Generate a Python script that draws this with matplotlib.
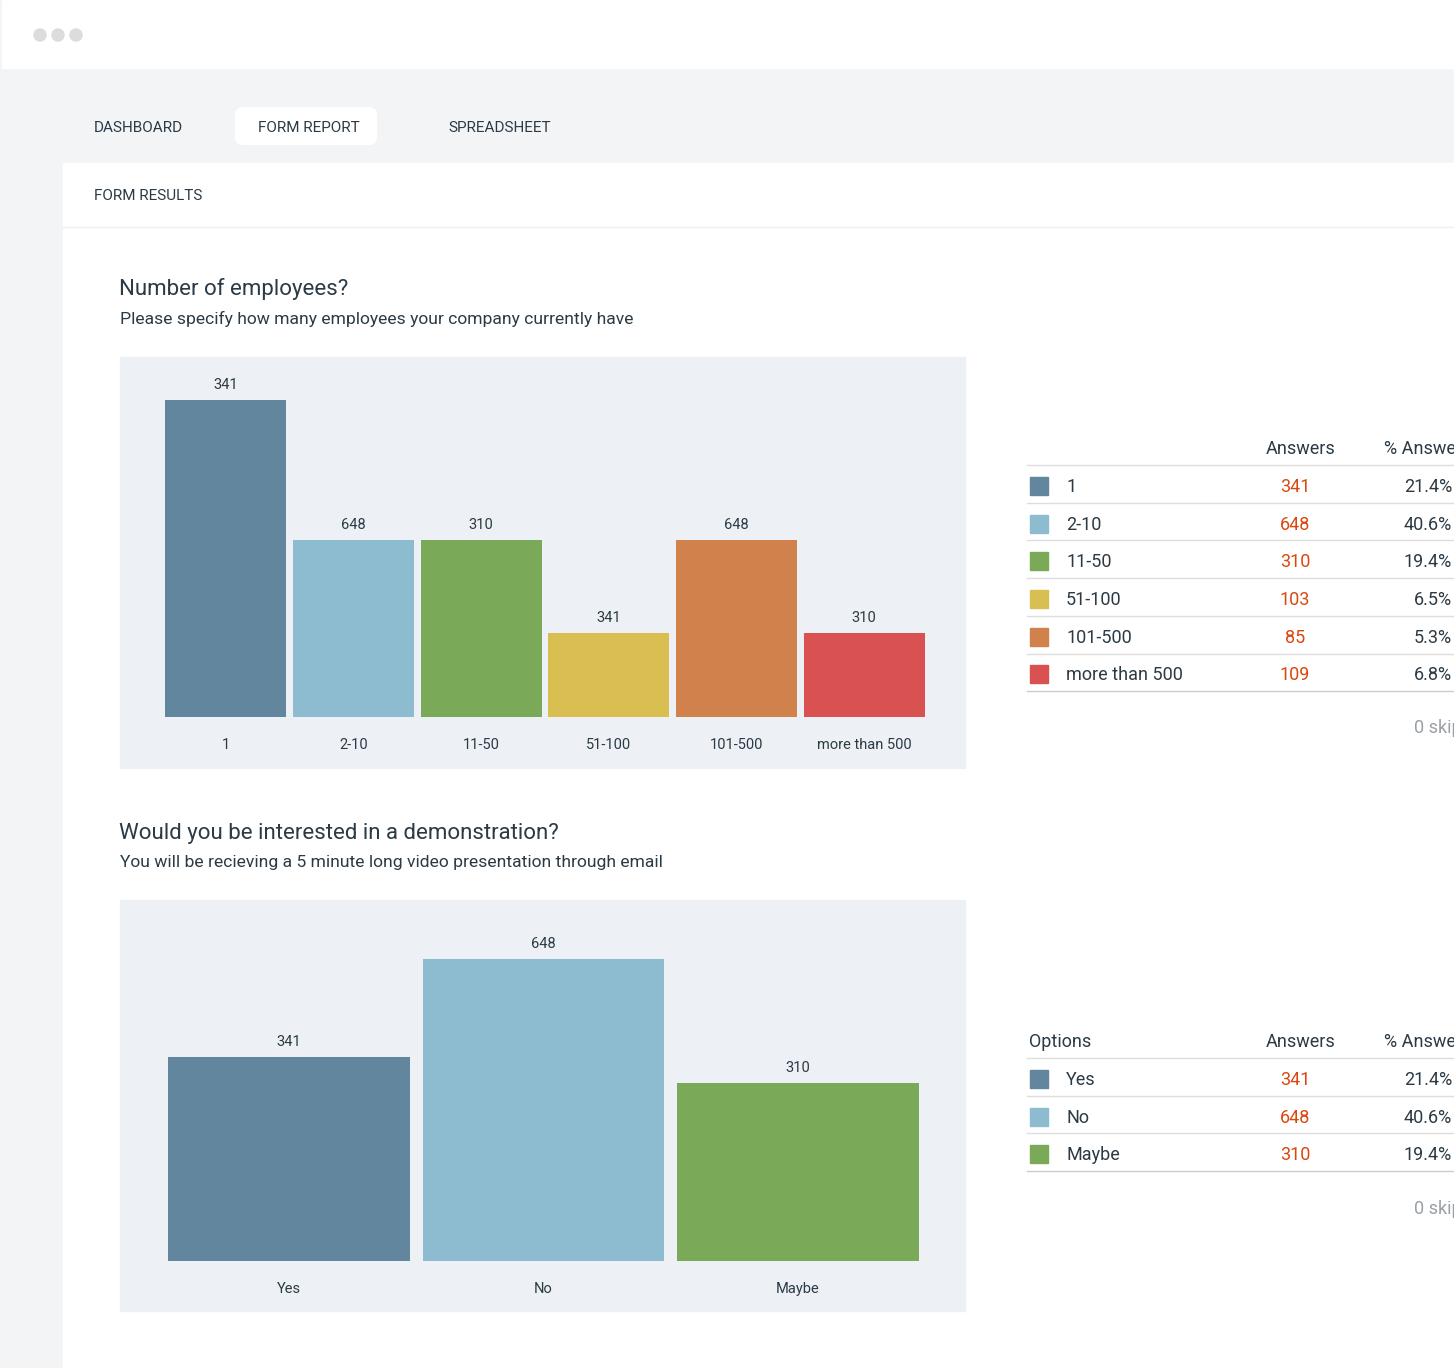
import matplotlib
matplotlib.use("Agg")
import matplotlib.pyplot as plt
from matplotlib.patches import Rectangle, FancyBboxPatch, Circle

plt.rcParams['font.family'] = ['Roboto', 'DejaVu Sans']

W, H = 1454, 1368
# ---- data ----
q1_categories = ["1", "2-10", "11-50", "51-100", "101-500", "more than 500"]
q1_bar_heights = [317, 177, 177, 84, 177, 84]
q1_bar_labels = ["341", "648", "310", "341", "648", "310"]
q1_answers = ["341", "648", "310", "103", "85", "109"]
q1_percent = ["21.4%", "40.6%", "19.4%", "6.5%", "5.3%", "6.8%"]

q2_categories = ["Yes", "No", "Maybe"]
q2_bar_heights = [204, 302, 178]
q2_bar_labels = ["341", "648", "310"]
q2_answers = ["341", "648", "310"]
q2_percent = ["21.4%", "40.6%", "19.4%"]

colors = ["#62869e", "#8dbbd0", "#7aaa57", "#d9bf52", "#d0814c", "#d95150"]
TXT = "#2b3a45"
ORANGE = "#d9480f"

fig = plt.figure(figsize=(W / 100, H / 100), dpi=100)
bg = fig.add_axes([0, 0, 1, 1])
bg.set_xlim(0, W); bg.set_ylim(H, 0); bg.axis("off")
bg.add_patch(Rectangle((0, 0), W, H, color="#f3f4f6"))
bg.add_patch(Rectangle((2, 0), W, 68, color="white"))
for x in (40, 58, 76):
    bg.add_patch(Circle((x, 35), 6, color="#dcdcdc"))
bg.add_patch(FancyBboxPatch((235, 107), 142, 38, boxstyle="round,pad=0,rounding_size=8", color="white", ec="none"))
for t, x in (("DASHBOARD", 94), ("FORM REPORT", 258), ("SPREADSHEET", 448)):
    bg.text(x, 128, t, fontsize=11, color=TXT, va="center", ha="left")
bg.add_patch(Rectangle((63, 163), W, H, color="white"))
bg.text(94, 196, "FORM RESULTS", fontsize=11, color=TXT, va="center")
bg.plot([63, W], [227, 227], color="#eeeeee", lw=1)

bg.text(119, 289, "Number of employees?", fontsize=16, color=TXT, va="center")
bg.text(120, 319, "Please specify how many employees your company currently have", fontsize=12.6, color=TXT, va="center")
bg.text(119, 833, "Would you be interested in a demonstration?", fontsize=16, color=TXT, va="center")
bg.text(120, 863, "You will be recieving a 5 minute long video presentation through email", fontsize=12.6, color=TXT, va="center")
bg.add_patch(Rectangle((120, 357), 845, 411, color="#edf1f5"))
bg.add_patch(Rectangle((120, 900), 845, 411, color="#edf1f5"))


def chart(x0, x1, ytop, ybot, cats, heights, labels, cols):
    ax = fig.add_axes([x0 / W, 1 - ybot / H, (x1 - x0) / W, (ybot - ytop) / H])
    ax.patch.set_alpha(0)
    xs = list(range(len(cats)))
    bars = ax.bar(xs, heights, width=0.95, color=cols)
    ax.bar_label(bars, labels=labels, padding=6, fontsize=10.5, color=TXT)
    ax.set_xlim(-0.5, len(cats) - 0.5)
    ax.set_ylim(0, ybot - ytop)
    ax.set_xticks(xs, cats, fontsize=10.5, color=TXT)
    ax.tick_params(length=0, pad=15)
    ax.set_yticks([])
    for s in ax.spines.values():
        s.set_visible(False)


chart(162, 928, 357, 717, q1_categories, q1_bar_heights, q1_bar_labels, colors)
chart(162, 925, 900, 1261, q2_categories, q2_bar_heights, q2_bar_labels, colors[:3])


def table(ytop, header_opt, cats, answers, pcts, skip_y):
    bg.text(1301, ytop + 1, "Answers", fontsize=13, color=TXT, ha="center", va="center")
    bg.text(1384, ytop + 1, "% Answers", fontsize=13, color=TXT, ha="left", va="center", clip_on=True)
    if header_opt:
        bg.text(1029, ytop + 1, "Options", fontsize=13, color=TXT, va="center")
    line0 = ytop + 17
    bg.plot([1027, W], [line0, line0], color="#dddddd", lw=1)
    step = 37.7
    for i, (c, a, p) in enumerate(zip(cats, answers, pcts)):
        y = line0 + step * (i + 0.5) + 2
        bg.add_patch(Rectangle((1030, y - 9), 18, 18, color=colors[i]))
        bg.text(1066, y + 1, c, fontsize=13, color=TXT, va="center")
        bg.text(1295, y + 1, a, fontsize=13, color=ORANGE, va="center", ha="center")
        bg.text(1452, y + 1, p, fontsize=13, color=TXT, va="center", ha="right")
        ly = line0 + step * (i + 1)
        bg.plot([1027, W], [ly, ly], color="#dddddd" if i < len(cats) - 1 else "#cccccc", lw=1)
    bg.text(1414, skip_y, "0 skipped", fontsize=13, color="#9aa0a6", va="center", clip_on=True)


table(448, False, q1_categories, q1_answers, q1_percent, 728)
table(1041, True, q2_categories, q2_answers, q2_percent, 1209)

fig.savefig("out.png", dpi=100)
